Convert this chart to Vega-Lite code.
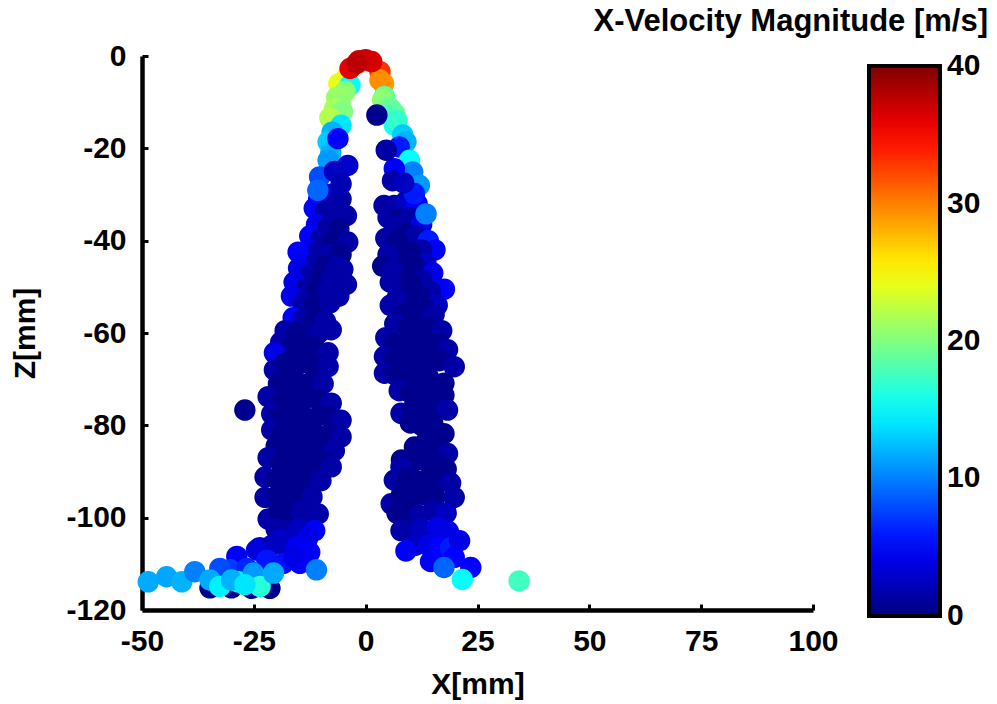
{
  "$schema": "https://vega.github.io/schema/vega-lite/v6.json",
  "autosize": "none",
  "width": 671,
  "height": 554,
  "padding": {"left": 142, "top": 56, "right": 184, "bottom": 94},
  "background": "white",
  "title": {"text": "X-Velocity Magnitude [m/s]", "anchor": "end", "frame": "group", "dx": 175, "offset": -21, "fontSize": 31, "fontWeight": "bold", "color": "black", "baseline": "alphabetic", "font": "Liberation Sans"},
  "data": {"values": [
    {"x":-10.5,"z":-31,"v":5},{"x":-8,"z":-30,"v":2.5},{"x":-5.5,"z":-31,"v":1.5},{"x":-11.5,"z":-33,"v":5},{"x":-9,"z":-33.5,"v":1.5},{"x":-6.5,"z":-34,"v":1.5},{"x":-4.3,"z":-34.6,"v":1.5},{"x":-11,"z":-36.5,"v":4},{"x":-8.5,"z":-37,"v":1.5},{"x":-6,"z":-37.5,"v":0.6},
    {"x":-12.5,"z":-39,"v":5},{"x":-10,"z":-39.5,"v":1.5},{"x":-7.5,"z":-40.5,"v":0.6},{"x":-4,"z":-40.3,"v":1.5},{"x":-13,"z":-42,"v":4},{"x":-15.1,"z":-42.5,"v":5},{"x":-10.5,"z":-42.5,"v":1.5},{"x":-8,"z":-43,"v":1.5},{"x":-5.5,"z":-43,"v":0.6},{"x":-14,"z":-44.5,"v":5},{"x":-11.5,"z":-45,"v":1.5},{"x":-9,"z":-45.5,"v":0.6},{"x":-6.5,"z":-45.5,"v":1.5},
    {"x":-15,"z":-46,"v":4},{"x":-12.5,"z":-47.5,"v":1.5},{"x":-10,"z":-48,"v":0.6},{"x":-7.5,"z":-48,"v":1.5},{"x":-5.1,"z":-46.2,"v":1.5},{"x":-16,"z":-49,"v":4},{"x":-13.5,"z":-50.5,"v":1.5},{"x":-11,"z":-51,"v":0.6},{"x":-8.5,"z":-51,"v":1.5},{"x":-4.3,"z":-49.5,"v":1.5},{"x":-16.6,"z":-52,"v":4},{"x":-14,"z":-53.5,"v":1.5},{"x":-11.5,"z":-54,"v":0.6},{"x":-8,"z":-53.5,"v":1.5},{"x":-6,"z":-52,"v":1.5},
    {"x":-16.2,"z":-56.7,"v":5},{"x":-14,"z":-57,"v":1.5},{"x":-11.5,"z":-57,"v":0.6},{"x":-9,"z":-57.5,"v":1.5},{"x":-18,"z":-59.5,"v":1.5},{"x":-15.5,"z":-60,"v":0.6},{"x":-13,"z":-60.5,"v":0.6},{"x":-10.5,"z":-60,"v":1.5},{"x":-7.7,"z":-59.3,"v":1.5},{"x":-19,"z":-62,"v":1.5},{"x":-16.5,"z":-63,"v":0.6},{"x":-14,"z":-63.5,"v":0.6},{"x":-11.5,"z":-63,"v":0.6},{"x":-8.4,"z":-64.3,"v":1.5},{"x":-20.4,"z":-64.3,"v":4},
    {"x":-20.4,"z":-68,"v":1.5},{"x":-18,"z":-66.5,"v":0.6},{"x":-15.5,"z":-67,"v":0.6},{"x":-13,"z":-66.5,"v":0.6},{"x":-10.5,"z":-67,"v":0.6},{"x":-8.4,"z":-67.3,"v":1.5},{"x":-19.5,"z":-71,"v":0.6},{"x":-17,"z":-70.5,"v":0.6},{"x":-14.5,"z":-71,"v":0.6},{"x":-12,"z":-70.5,"v":0.6},{"x":-9.5,"z":-71,"v":1.5},{"x":-21.8,"z":-73.8,"v":1.5},{"x":-18.5,"z":-74,"v":0.6},{"x":-16,"z":-74.5,"v":0.6},{"x":-13,"z":-74,"v":0.6},{"x":-10.5,"z":-74.5,"v":0.6},{"x":-7.7,"z":-75.2,"v":1.5},{"x":-27,"z":-76.7,"v":0.6},
    {"x":-21,"z":-77.5,"v":1.5},{"x":-19,"z":-78,"v":0.6},{"x":-16.5,"z":-78.5,"v":0.6},{"x":-14,"z":-78,"v":0.6},{"x":-11.5,"z":-78.5,"v":0.6},{"x":-8.5,"z":-78,"v":0.6},{"x":-5.5,"z":-78.9,"v":1.5},{"x":-21,"z":-81,"v":1.5},{"x":-18.5,"z":-81.5,"v":0.6},{"x":-16,"z":-82,"v":0.6},{"x":-13.5,"z":-81.5,"v":0.6},{"x":-11,"z":-82,"v":0.6},{"x":-8,"z":-82,"v":0.6},{"x":-5.5,"z":-82.5,"v":1.5},{"x":-20,"z":-84.5,"v":0.6},{"x":-17.5,"z":-85,"v":0.6},{"x":-15,"z":-85,"v":0.6},{"x":-12.5,"z":-85.5,"v":0.6},{"x":-10,"z":-85,"v":0.6},{"x":-7,"z":-85.5,"v":1.5},
    {"x":-21.8,"z":-87,"v":1.5},{"x":-19,"z":-88,"v":0.6},{"x":-16.5,"z":-88.5,"v":0.6},{"x":-14,"z":-88,"v":0.6},{"x":-11.5,"z":-88.5,"v":0.6},{"x":-9,"z":-88,"v":0.6},{"x":-7.7,"z":-89,"v":1.5},{"x":-22.5,"z":-91.2,"v":1.5},{"x":-20,"z":-91.5,"v":0.6},{"x":-17.5,"z":-92,"v":0.6},{"x":-15,"z":-91.5,"v":0.6},{"x":-12.5,"z":-92,"v":0.6},{"x":-10,"z":-92,"v":1.5},{"x":-22.5,"z":-95.6,"v":1.5},{"x":-19.5,"z":-95,"v":0.6},{"x":-17,"z":-95.5,"v":0.6},{"x":-14.5,"z":-95,"v":0.6},{"x":-12,"z":-95.5,"v":1.5},
    {"x":-21.8,"z":-100.3,"v":1.5},{"x":-19.5,"z":-98.5,"v":0.6},{"x":-17,"z":-99,"v":0.6},{"x":-14.5,"z":-98.5,"v":1.5},{"x":-10.6,"z":-99.2,"v":1.5},{"x":-12.5,"z":-101,"v":1.5},{"x":-20,"z":-102.5,"v":1.5},{"x":-17.5,"z":-103,"v":1.5},{"x":-19.1,"z":-104.8,"v":2.8},{"x":-15,"z":-102.5,"v":2.5},{"x":-11.4,"z":-102.8,"v":4.5},{"x":-13,"z":-104.5,"v":4},
    {"x":4.1,"z":-32.4,"v":1.5},{"x":6.4,"z":-32.4,"v":1.5},{"x":9,"z":-31.5,"v":2.5},{"x":11.5,"z":-32,"v":5},{"x":5,"z":-35,"v":1.5},{"x":7.5,"z":-35.5,"v":0.6},{"x":10,"z":-35,"v":1.5},{"x":12.5,"z":-36.5,"v":4},{"x":6.4,"z":-36.8,"v":1.5},{"x":9,"z":-38.5,"v":0.6},{"x":11,"z":-39,"v":1.5},{"x":14,"z":-40,"v":6},{"x":4.5,"z":-39.5,"v":1.5},{"x":7,"z":-40,"v":0.6},
    {"x":15.5,"z":-42,"v":5},{"x":12.5,"z":-42,"v":1.5},{"x":10,"z":-42.5,"v":0.6},{"x":7.5,"z":-43,"v":0.6},{"x":5,"z":-43,"v":1.5},{"x":3.8,"z":-45.5,"v":0.6},{"x":13.5,"z":-45,"v":2.5},{"x":11,"z":-45.5,"v":0.6},{"x":8.5,"z":-46,"v":0.6},{"x":6,"z":-46.5,"v":1.5},{"x":15,"z":-47,"v":4},{"x":12.5,"z":-48.5,"v":1.5},{"x":10,"z":-49,"v":0.6},{"x":7.5,"z":-49.5,"v":0.6},{"x":5.5,"z":-49,"v":1.5},{"x":17.6,"z":-50.5,"v":5},
    {"x":14.5,"z":-51,"v":1.5},{"x":12,"z":-52,"v":0.6},{"x":9.5,"z":-52.5,"v":0.6},{"x":7,"z":-52.5,"v":1.5},{"x":5.5,"z":-54,"v":1.5},{"x":16,"z":-54,"v":2.5},{"x":13.5,"z":-55,"v":0.6},{"x":11,"z":-55.5,"v":0.6},{"x":8.5,"z":-56,"v":0.6},{"x":15.3,"z":-56,"v":1.5},{"x":6.5,"z":-58,"v":1.5},{"x":9.5,"z":-59,"v":0.6},{"x":12,"z":-59,"v":0.6},{"x":14.5,"z":-59,"v":0.6},{"x":17,"z":-59.5,"v":1.5},
    {"x":4.5,"z":-61,"v":1.5},{"x":6.4,"z":-62.2,"v":0.6},{"x":9,"z":-62,"v":0.6},{"x":11.5,"z":-62.5,"v":0.6},{"x":14,"z":-62,"v":0.6},{"x":16.5,"z":-62.5,"v":0.6},{"x":18.3,"z":-63.6,"v":1.5},{"x":4.2,"z":-65.1,"v":1.5},{"x":6.5,"z":-65.5,"v":0.6},{"x":9,"z":-66,"v":0.6},{"x":11.5,"z":-66,"v":0.6},{"x":14,"z":-65.5,"v":0.6},{"x":16.5,"z":-66,"v":0.6},{"x":19.8,"z":-67.3,"v":1.5},{"x":4.2,"z":-68.7,"v":1.5},{"x":6.5,"z":-69,"v":0.6},{"x":9,"z":-69.5,"v":0.6},{"x":11.5,"z":-69,"v":0.6},{"x":14,"z":-69.5,"v":0.6},{"x":17.5,"z":-70.9,"v":0.6},
    {"x":7.5,"z":-72.5,"v":1.5},{"x":10,"z":-73,"v":0.6},{"x":12.5,"z":-72.5,"v":0.6},{"x":15,"z":-73,"v":0.6},{"x":17.5,"z":-73.5,"v":0.6},{"x":7.9,"z":-77.4,"v":1.5},{"x":10.5,"z":-76.5,"v":0.6},{"x":13,"z":-76,"v":0.6},{"x":15.5,"z":-76.5,"v":0.6},{"x":18.3,"z":-76.7,"v":1.5},{"x":10,"z":-79.5,"v":0.6},{"x":12.5,"z":-80,"v":0.6},{"x":15,"z":-79.5,"v":0.6},{"x":17.5,"z":-81.8,"v":0.6},
    {"x":10.9,"z":-84.7,"v":0.6},{"x":13.5,"z":-83.5,"v":0.6},{"x":16,"z":-84,"v":0.6},{"x":18.3,"z":-86.1,"v":1.5},{"x":8,"z":-87.5,"v":0.6},{"x":10.5,"z":-88,"v":0.6},{"x":13,"z":-87.5,"v":0.6},{"x":15.5,"z":-88,"v":0.6},{"x":7.9,"z":-89,"v":1.5},{"x":18,"z":-89.5,"v":0.6},
    {"x":6.4,"z":-91.9,"v":1.5},{"x":9,"z":-91.5,"v":0.6},{"x":11.5,"z":-92,"v":0.6},{"x":14,"z":-91.5,"v":0.6},{"x":16.5,"z":-92,"v":0.6},{"x":19,"z":-92.5,"v":1.5},{"x":5.7,"z":-97,"v":1.5},{"x":8,"z":-95,"v":0.6},{"x":10.5,"z":-95.5,"v":0.6},{"x":13,"z":-95,"v":0.6},{"x":15.5,"z":-95.5,"v":0.6},{"x":19.8,"z":-95.6,"v":1.5},{"x":7,"z":-99,"v":0.6},{"x":9.5,"z":-99,"v":0.6},{"x":12,"z":-99.5,"v":1.5},{"x":15,"z":-98.5,"v":1.5},{"x":18,"z":-99,"v":2.5},
    {"x":7.9,"z":-102.8,"v":1.5},{"x":10,"z":-103,"v":1.5},{"x":12.5,"z":-102.5,"v":2.5},{"x":16,"z":-102.1,"v":4},{"x":18.5,"z":-103,"v":4},{"x":11,"z":-106,"v":2.5},{"x":14,"z":-106,"v":4},{"x":16.5,"z":-106.5,"v":5},{"x":19,"z":-106.5,"v":6},{"x":21,"z":-105,"v":4},{"x":19.8,"z":-108.6,"v":5},{"x":14.5,"z":-109.5,"v":5},{"x":9,"z":-107.2,"v":5},{"x":17.5,"z":-110.8,"v":9},{"x":23.5,"z":-110.8,"v":5},{"x":21.6,"z":-113.4,"v":15},{"x":34.3,"z":-113.7,"v":17.5},
    {"x":-34.8,"z":-115.2,"v":0.6},{"x":-30,"z":-115.2,"v":0.6},{"x":-25.5,"z":-115.3,"v":0.6},{"x":-21.4,"z":-115.3,"v":0.6},
    {"x":-23.7,"z":-106.5,"v":3.5},{"x":-21,"z":-106,"v":2.5},{"x":-18,"z":-106,"v":2.5},{"x":-15.4,"z":-106.3,"v":4.4},{"x":-12.5,"z":-107.5,"v":5},{"x":-24.4,"z":-107,"v":3.6},{"x":-28.8,"z":-108.4,"v":5},{"x":-22.1,"z":-109.2,"v":5.8},{"x":-18.4,"z":-109.9,"v":5.5},{"x":-14.7,"z":-109.9,"v":5},{"x":-16,"z":-108.5,"v":4},{"x":-30.3,"z":-111.3,"v":7.3},{"x":-32.6,"z":-111,"v":8},{"x":-26.5,"z":-111,"v":6.5},
    {"x":-48.6,"z":-113.9,"v":11.7},{"x":-44.5,"z":-112.8,"v":11.5},{"x":-41.1,"z":-113.9,"v":12},{"x":-38.2,"z":-111.7,"v":10},{"x":-34.8,"z":-113.5,"v":11.7},{"x":-32.6,"z":-114.9,"v":14.5},{"x":-28.5,"z":-113.9,"v":15},{"x":-25.1,"z":-112,"v":11},{"x":-23.6,"z":-114.9,"v":16.5},{"x":-20.6,"z":-112,"v":11.7},{"x":-11,"z":-111.3,"v":10},{"x":-30,"z":-113.5,"v":12},{"x":-27,"z":-114.5,"v":14},
    {"x":-4.2,"z":-4.5,"v":25},{"x":-6,"z":-6,"v":24},{"x":-3.5,"z":-6.3,"v":15},{"x":-4.6,"z":-7.7,"v":20.5},{"x":-6.5,"z":-9,"v":21},{"x":-5.7,"z":-10.6,"v":20.5},{"x":-7,"z":-11.5,"v":21.5},{"x":-5.2,"z":-12,"v":20},{"x":-8,"z":-13.4,"v":22},{"x":-5.5,"z":-15,"v":14},{"x":-7.5,"z":-16.5,"v":12},{"x":-8.4,"z":-18.6,"v":13},{"x":-7.8,"z":-21,"v":12},{"x":-8.4,"z":-22.6,"v":11},{"x":-10.3,"z":-26.2,"v":8},{"x":-10.7,"z":-29.1,"v":9},{"x":-6.2,"z":-17.9,"v":5},{"x":-4,"z":-23.7,"v":3},{"x":-7,"z":-25,"v":2.5},{"x":-5.5,"z":-27.7,"v":2},
    {"x":3.2,"z":-3.4,"v":33},{"x":4,"z":-6,"v":29},{"x":3.2,"z":-5.2,"v":29.5},{"x":4.2,"z":-8.8,"v":19},{"x":3.8,"z":-9.5,"v":20.6},{"x":4.9,"z":-11,"v":19.7},{"x":5.7,"z":-11.5,"v":19},{"x":6.5,"z":-12.5,"v":19},{"x":5.5,"z":-13,"v":18},{"x":6.4,"z":-15,"v":16},{"x":7,"z":-14,"v":17},{"x":8.3,"z":-17.1,"v":13},{"x":9,"z":-18.6,"v":12},{"x":7.5,"z":-19.7,"v":6},{"x":9.8,"z":-22.6,"v":15},{"x":10.5,"z":-25.1,"v":10},{"x":12,"z":-28,"v":11},{"x":6.4,"z":-24.4,"v":5},{"x":10.9,"z":-29.8,"v":6},{"x":13.5,"z":-34.2,"v":10},{"x":2.5,"z":-12.8,"v":0.6},{"x":4.6,"z":-20.4,"v":1.5},{"x":6,"z":-27,"v":1.5},{"x":8.5,"z":-27.5,"v":2.5},
    {"x":-3.5,"z":-2.7,"v":36},{"x":0,"z":-0.8,"v":37},{"x":1.35,"z":-1.2,"v":36.7},{"x":-1.5,"z":-1,"v":37},{"x":-2.0,"z":-1.6,"v":37.7}
  ]},
  "mark": {"type": "circle", "size": 460, "opacity": 1},
  "encoding": {
    "x": {"field": "x", "type": "quantitative", "title": "X[mm]",
          "scale": {"domain": [-50, 100], "nice": false, "zero": false},
          "axis": {"values": [-50, -25, 0, 25, 50, 75, 100], "labelExpr": "'' + datum.value"}},
    "y": {"field": "z", "type": "quantitative", "title": "Z[mm]",
          "scale": {"domain": [-120, 0], "nice": false, "zero": false},
          "axis": {"values": [-120, -100, -80, -60, -40, -20, 0], "labelExpr": "'' + datum.value"}},
    "color": {"field": "v", "type": "quantitative",
              "scale": {"domain": [-0.01, 5, 10, 15, 20, 25, 30, 35, 40.01],
                        "range": ["#000080", "#0000ff", "#0080ff", "#00ffff", "#80ff80", "#ffff00", "#ff8000", "#ff0000", "#800000"],
                        "interpolate": "rgb"},
              "legend": {"orient": "none", "legendX": 727, "legendY": 10, "direction": "vertical", "title": null,
                         "gradientLength": 550, "gradientThickness": 71, "gradientStrokeColor": "black", "gradientStrokeWidth": 4,
                         "values": [0, 10, 20, 30, 40], "labelFontSize": 30, "labelFontWeight": "bold", "labelColor": "black",
                         "labelOffset": 7, "labelOverlap": false, "padding": 0}}
  },
  "config": {
    "font": "Liberation Sans",
    "view": {"stroke": null},
    "axis": {"grid": false, "domainColor": "black", "domainWidth": 4.5, "tickColor": "black", "tickWidth": 3, "tickSize": -6,
             "labelFontSize": 30, "labelFontWeight": "bold", "labelColor": "black", "labelPadding": 22,
             "titleFontSize": 30, "titleFontWeight": "bold", "titleColor": "black", "labelFlush": false},
    "axisX": {"titlePadding": 13},
    "axisY": {"titlePadding": 25}
  }
}
